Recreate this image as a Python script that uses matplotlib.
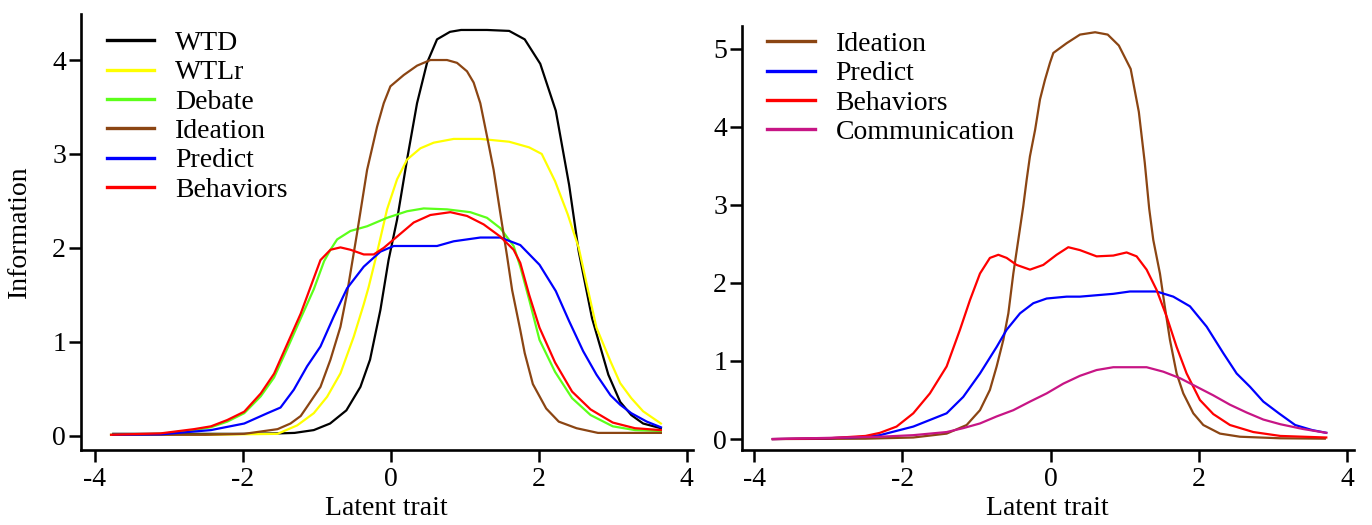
import matplotlib
matplotlib.use("Agg")
import matplotlib.pyplot as plt

plt.rcParams['font.family'] = ['Liberation Serif', 'DejaVu Serif']
plt.rcParams['axes.unicode_minus'] = False

# ---- left panel data
wtd_x = [-3.75, -2.5, -2.0, -1.5, -1.3, -1.04, -0.82, -0.6, -0.41, -0.28, -0.14, -0.03, 0.085, 0.22, 0.355,
         0.49, 0.625, 0.8, 0.95, 1.3, 1.6, 1.81, 2.02, 2.23, 2.41, 2.54, 2.72, 2.94, 3.1, 3.25, 3.41, 3.65]
wtd_y = [0.02, 0.02, 0.02, 0.025, 0.03, 0.06, 0.13, 0.27, 0.52, 0.81, 1.34, 1.87, 2.30, 2.94, 3.54,
         3.97, 4.22, 4.30, 4.32, 4.32, 4.31, 4.22, 3.96, 3.46, 2.67, 1.96, 1.25, 0.65, 0.36, 0.22, 0.13, 0.08]

wtlr_x = [-3.75, -2.5, -1.53, -1.265, -1.04, -0.86, -0.68, -0.5, -0.365, -0.3, -0.2, -0.05, 0.085, 0.22, 0.4,
          0.58, 0.85, 1.21, 1.6, 1.87, 2.04, 2.22, 2.39, 2.54, 2.66, 2.78, 2.97, 3.1, 3.25, 3.41, 3.65]
wtlr_y = [0.01, 0.01, 0.02, 0.11, 0.24, 0.415, 0.664, 1.055, 1.40, 1.58, 1.90, 2.41, 2.73, 2.94, 3.06,
          3.12, 3.16, 3.16, 3.13, 3.07, 3.0, 2.71, 2.36, 2.0, 1.57, 1.15, 0.79, 0.56, 0.40, 0.26, 0.13]

debate_x = [-3.78, -3.1, -2.66, -2.43, -2.21, -1.98, -1.757, -1.577, -1.397, -1.217, -1.04, -0.9, -0.815,
            -0.725, -0.545, -0.32, -0.05, 0.22, 0.445, 0.76, 1.075, 1.3, 1.48, 1.66, 1.75, 1.87, 2.01,
            2.22, 2.45, 2.7, 3.0, 3.3, 3.65]
debate_y = [0.01, 0.02, 0.06, 0.09, 0.15, 0.24, 0.42, 0.62, 0.93, 1.25, 1.56, 1.86, 1.98,
            2.09, 2.18, 2.23, 2.32, 2.39, 2.42, 2.41, 2.38, 2.32, 2.21, 2.02, 1.80, 1.45, 1.02,
            0.68, 0.40, 0.22, 0.10, 0.06, 0.05]

idea_x = [-3.75, -2.5, -1.98, -1.53, -1.355, -1.217, -1.13, -0.95, -0.815, -0.68, -0.59, -0.455, -0.32,
          -0.185, -0.095, -0.005, 0.175, 0.355, 0.535, 0.76, 0.895, 1.03, 1.12, 1.21, 1.3, 1.39, 1.48,
          1.57, 1.64, 1.75, 1.81, 1.92, 2.1, 2.27, 2.51, 2.8, 3.65]
idea_y = [0.01, 0.01, 0.02, 0.07, 0.13, 0.21, 0.31, 0.52, 0.81, 1.16, 1.52, 2.16, 2.83,
          3.29, 3.54, 3.72, 3.84, 3.94, 4.0, 4.0, 3.97, 3.88, 3.76, 3.54, 3.19, 2.83, 2.37,
          1.92, 1.55, 1.125, 0.88, 0.55, 0.29, 0.15, 0.08, 0.03, 0.03]

pred_x = [-3.75, -3.1, -2.43, -1.98, -1.667, -1.49, -1.31, -1.13, -0.95, -0.77, -0.59, -0.365, -0.14, 0.04,
          0.31, 0.625, 0.85, 1.03, 1.21, 1.48, 1.75, 2.01, 2.23, 2.41, 2.6, 2.78, 2.97, 3.1, 3.25, 3.46, 3.65]
pred_y = [0.01, 0.015, 0.06, 0.13, 0.24, 0.30, 0.49, 0.74, 0.95, 1.27, 1.57, 1.80, 1.96, 2.02,
          2.02, 2.02, 2.07, 2.09, 2.11, 2.11, 2.03, 1.82, 1.54, 1.22, 0.90, 0.65, 0.43, 0.33, 0.24, 0.15, 0.09]

behav_x = [-3.78, -3.11, -2.66, -2.43, -2.21, -1.98, -1.757, -1.577, -1.397, -1.217, -1.1, -0.95, -0.815,
           -0.68, -0.545, -0.365, -0.23, -0.095, 0.085, 0.31, 0.535, 0.805, 1.03, 1.255, 1.48, 1.66, 1.75,
           1.87, 2.01, 2.22, 2.45, 2.7, 3.0, 3.3, 3.65]
behav_y = [0.01, 0.025, 0.07, 0.10, 0.167, 0.256, 0.45, 0.66, 0.98, 1.30, 1.55, 1.87, 1.98,
           2.005, 1.98, 1.93, 1.93, 2.0, 2.12, 2.27, 2.35, 2.38, 2.34, 2.25, 2.12, 1.98, 1.84,
           1.50, 1.15, 0.78, 0.47, 0.28, 0.14, 0.08, 0.06]

# ---- right panel data
idea2_x = [-3.75, -2.5, -1.854, -1.404, -1.134, -0.954, -0.82, -0.729, -0.639, -0.571, -0.504, -0.437,
           -0.37, -0.324, -0.28, -0.21, -0.144, -0.077, -0.009, 0.036, 0.216, 0.396, 0.6, 0.77, 0.92,
           1.08, 1.19, 1.27, 1.33, 1.385, 1.475, 1.54, 1.61, 1.70, 1.79, 1.925, 2.06, 2.285, 2.555, 3.1, 3.7]
idea2_y = [0.0, 0.005, 0.02, 0.07, 0.18, 0.37, 0.63, 0.93, 1.27, 1.61, 2.12, 2.55,
           2.98, 3.32, 3.62, 3.96, 4.35, 4.60, 4.82, 4.945, 5.07, 5.18, 5.21, 5.18, 5.04,
           4.74, 4.19, 3.54, 2.95, 2.55, 2.12, 1.70, 1.27, 0.84, 0.585, 0.33, 0.18, 0.07, 0.03, 0.01, 0.005]

pred2_x = [-3.75, -3.0, -2.5, -2.304, -1.854, -1.404, -1.18, -0.954, -0.729, -0.594, -0.414, -0.234, -0.054,
           0.216, 0.395, 0.845, 1.07, 1.43, 1.655, 1.88, 2.105, 2.33, 2.51, 2.69, 2.87, 3.08, 3.3, 3.53, 3.72]
pred2_y = [0.0, 0.01, 0.03, 0.05, 0.16, 0.33, 0.54, 0.84, 1.18, 1.40, 1.61, 1.74, 1.80,
           1.824, 1.824, 1.86, 1.89, 1.89, 1.824, 1.70, 1.44, 1.10, 0.84, 0.67, 0.48, 0.33, 0.18, 0.115, 0.08]

behav2_x = [-3.75, -3.0, -2.5, -2.304, -2.08, -1.854, -1.63, -1.404, -1.224, -1.089, -0.954, -0.82, -0.706,
            -0.594, -0.459, -0.279, -0.1, 0.08, 0.238, 0.395, 0.62, 0.845, 1.025, 1.16, 1.295, 1.43, 1.565,
            1.70, 1.835, 2.015, 2.195, 2.42, 2.735, 3.1, 3.72]
behav2_y = [0.0, 0.01, 0.04, 0.08, 0.16, 0.33, 0.585, 0.93, 1.40, 1.78, 2.12, 2.32, 2.36,
            2.32, 2.23, 2.17, 2.23, 2.36, 2.457, 2.42, 2.34, 2.35, 2.39, 2.34, 2.17, 1.91, 1.57,
            1.18, 0.84, 0.50, 0.32, 0.18, 0.09, 0.04, 0.02]

comm_x = [-3.75, -2.304, -1.854, -1.404, -1.18, -0.954, -0.729, -0.504, -0.279, -0.054, 0.171, 0.395, 0.62,
          0.845, 1.295, 1.52, 1.745, 1.97, 2.195, 2.42, 2.645, 2.87, 3.1, 3.4, 3.72]
comm_y = [0.0, 0.03, 0.05, 0.09, 0.14, 0.20, 0.29, 0.37, 0.48, 0.585, 0.71, 0.81, 0.884,
          0.92, 0.92, 0.863, 0.78, 0.67, 0.56, 0.44, 0.34, 0.25, 0.19, 0.13, 0.08]

xticks = [-4, -2, 0, 2, 4]
left_yticks = [0, 1, 2, 3, 4]
right_yticks = [0, 1, 2, 3, 4, 5]

BROWN = '#8b4513'
GREEN = '#5cff1a'
MAGENTA = '#c71585'


def style_axes(ax, yticks):
    ax.spines['top'].set_visible(False)
    ax.spines['right'].set_visible(False)
    for s in ['left', 'bottom']:
        ax.spines[s].set_linewidth(1.9)
    ax.set_xticks(xticks)
    ax.set_yticks(yticks)
    ax.tick_params(direction='out', length=8.5, width=1.8, labelsize=20)
    ax.tick_params(axis='x', pad=4)
    ax.tick_params(axis='y', pad=2)
    ax.set_xlabel('Latent trait', fontsize=20)


def add_legend(ax, x0, y0):
    leg = ax.legend(loc='upper left', bbox_to_anchor=(x0, y0), frameon=False, fontsize=20,
                    handlelength=1.7, handletextpad=0.75, labelspacing=0.14,
                    borderpad=0, borderaxespad=0)
    for ln in leg.get_lines():
        ln.set_linewidth(2.4)
    return leg


fig = plt.figure(figsize=(13.72, 5.25), dpi=100)

# left panel
ax1 = fig.add_axes([80.7 / 1372, 75 / 525, 612 / 1372, 436 / 525])
ax1.plot(wtd_x, wtd_y, color='black', lw=1.6, label='WTD')
ax1.plot(wtlr_x, wtlr_y, color='#ffff00', lw=1.6, label='WTLr')
ax1.plot(debate_x, debate_y, color=GREEN, lw=1.6, label='Debate')
ax1.plot(idea_x, idea_y, color=BROWN, lw=1.6, label='Ideation')
ax1.plot(pred_x, pred_y, color='#0000ff', lw=1.6, label='Predict')
ax1.plot(behav_x, behav_y, color='#ff0000', lw=1.6, label='Behaviors')
ax1.set_xlim(-4.19, 4.08)
ax1.set_ylim(-0.152, 4.49)
style_axes(ax1, left_yticks)
ax1.set_ylabel('Information', fontsize=20)
ax1.yaxis.set_label_coords(-0.08, 0.5)
ax1.xaxis.set_label_coords(0.5, -0.105)
add_legend(ax1, 0.043, 0.962)

# right panel
ax2 = fig.add_axes([741.7 / 1372, 75 / 525, 612 / 1372, 424 / 525])
ax2.plot(idea2_x, idea2_y, color=BROWN, lw=1.6, label='Ideation')
ax2.plot(pred2_x, pred2_y, color='#0000ff', lw=1.6, label='Predict')
ax2.plot(behav2_x, behav2_y, color='#ff0000', lw=1.6, label='Behaviors')
ax2.plot(comm_x, comm_y, color=MAGENTA, lw=1.6, label='Communication')
ax2.set_xlim(-4.17, 4.09)
ax2.set_ylim(-0.14, 5.29)
style_axes(ax2, right_yticks)
ax2.xaxis.set_label_coords(0.5, -0.108)
add_legend(ax2, 0.042, 0.987)

fig.savefig('out.png', dpi=100)
